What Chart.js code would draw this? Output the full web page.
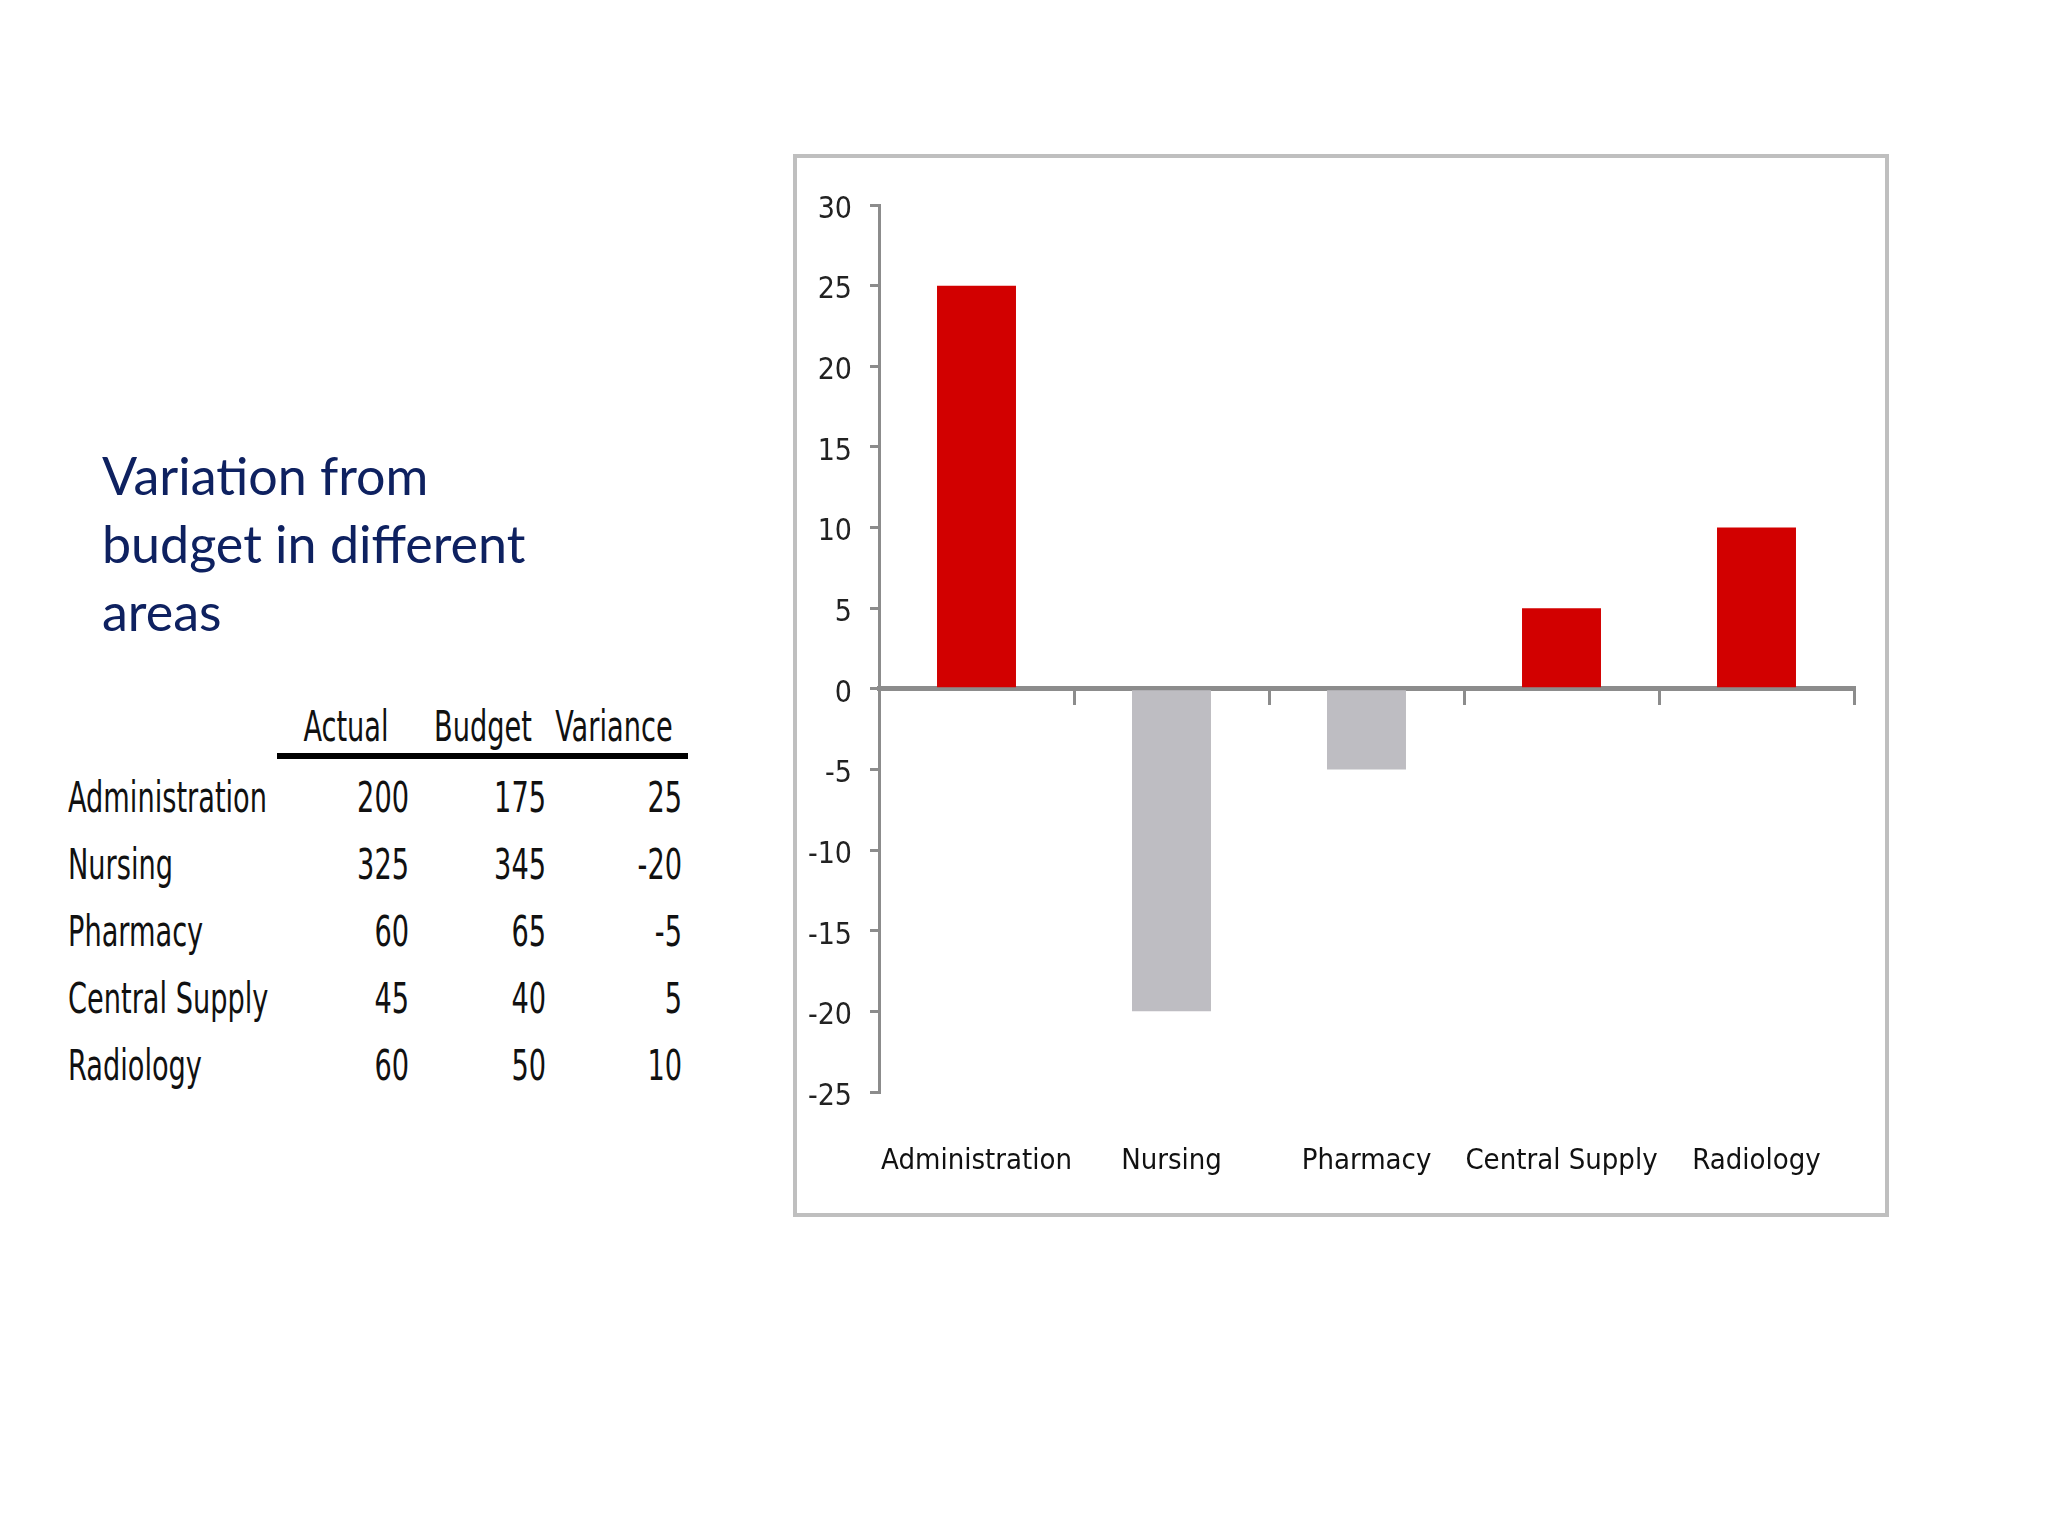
<!DOCTYPE html>
<html>
<head>
<meta charset="utf-8">
<title>Variation from budget in different areas</title>
<script src="https://cdn.jsdelivr.net/npm/chart.js@4.4.1/dist/chart.umd.min.js"></script>
<style>
  html, body { margin: 0; padding: 0; background: #ffffff; }
  body { width: 2048px; height: 1536px; position: relative; overflow: hidden; }
  .title {
    position: absolute; left: 102px; top: 441px;
    font-family: Lato, 'Open Sans', sans-serif; font-size: 52px; line-height: 68px;
    color: #0e2160; white-space: nowrap;
  }
  .tbl { position: absolute; left: 0; top: 0; font-family: 'DejaVu Sans Condensed', 'Liberation Sans', sans-serif; font-size: 42px; line-height: 42px; color: #111; }
  .tbl div { position: absolute; white-space: nowrap; }
  .box {
    position: absolute; left: 793px; top: 154px; width: 1096px; height: 1063px;
    box-sizing: border-box; border: 4px solid #bfbfbf; background: #fff;
  }
  .box canvas { position: absolute; left: 0; top: 0; }
</style>
</head>
<body>
<div class="title">Variation from<br>budget in different<br>areas</div>
<div class="tbl" id="tbl"></div>
<div class="box"><canvas id="chart" width="1088" height="1055"></canvas></div>
<script>
(function () {
  'use strict';

  // table + chart data
  var categories = ['Administration', 'Nursing', 'Pharmacy', 'Central Supply', 'Radiology'];
  var headers = ['Actual', 'Budget', 'Variance'];
  var actual = [200, 325, 60, 45, 60];
  var budget = [175, 345, 65, 40, 50];
  var variance = [25, -20, -5, 5, 10];
  var yMin = -25, yMax = 30, yStep = 5;

  var narrow = "'DejaVu Sans Condensed', 'Liberation Sans', sans-serif";
  var squeeze = 0.72; // the table text in the slide is a very narrow face

  function addText(parent, text, css, origin) {
    var d = document.createElement('div');
    d.textContent = text;
    for (var k in css) d.style[k] = css[k];
    d.style.transform = 'scaleX(' + squeeze + ')';
    d.style.transformOrigin = origin + ' center';
    parent.appendChild(d);
    return d;
  }

  function buildTable() {
    var tbl = document.getElementById('tbl');
    var headCenters = [346, 483, 614];
    var rightEdges = [409, 546, 682];
    headers.forEach(function (h, i) {
      addText(tbl, h, { left: (headCenters[i] - 100) + 'px', width: '200px', textAlign: 'center', top: '706px' }, 'center');
    });
    var line = document.createElement('div');
    line.style.left = '277px'; line.style.top = '753px';
    line.style.width = '411px'; line.style.height = '6px';
    line.style.background = '#000';
    tbl.appendChild(line);

    var cols = [actual, budget, variance];
    categories.forEach(function (c, r) {
      var top = 777 + r * 67;
      addText(tbl, c, { left: '68px', top: top + 'px' }, 'left');
      cols.forEach(function (col, i) {
        addText(tbl, String(col[r]), { left: (rightEdges[i] - 200) + 'px', width: '200px', textAlign: 'right', top: top + 'px' }, 'right');
      });
    });
  }

  function drawChart() {
    var ctx = document.getElementById('chart');
    var axisGray = '#8c8c8c';
    new Chart(ctx, {
      type: 'bar',
      data: {
        labels: categories,
        datasets: [{
          label: 'Variance',
          data: variance,
          backgroundColor: function (c) { return c.raw >= 0 ? '#d20000' : '#bebdc2'; },
          borderWidth: 0,
          barPercentage: 0.405,
          categoryPercentage: 1
        }]
      },
      options: {
        responsive: false,
        animation: false,
        layout: { padding: { top: 47, right: 31, left: 0, bottom: 0 } },
        plugins: { legend: { display: false }, tooltip: { enabled: false } },
        scales: {
          x: {
            type: 'category',
            position: 'bottom',
            offset: true,
            grid: { display: false, drawTicks: false },
            border: { display: false },
            ticks: { color: '#111', font: { family: narrow, size: 29 }, padding: 52, autoSkip: false, maxRotation: 0 },
            afterFit: function (s) { s.height = 121; }
          },
          x0: {
            type: 'category',
            position: { y: 0 },
            offset: true,
            z: 1,
            grid: { offset: true, drawOnChartArea: false, drawTicks: true, tickLength: 14, lineWidth: 3, color: axisGray },
            border: { display: true, color: axisGray, width: 5 },
            ticks: { display: false }
          },
          y: {
            min: yMin,
            max: yMax,
            ticks: { stepSize: yStep, padding: 18, labelOffset: 5, color: '#222', font: { family: narrow, size: 30 } },
            grid: { drawOnChartArea: false, tickLength: 9, lineWidth: 3, color: axisGray },
            border: { color: axisGray, width: 3 },
            afterFit: function (s) { s.width = 82; }
          }
        }
      }
    });
  }

  buildTable();
  drawChart();
})();
</script>
</body>
</html>
